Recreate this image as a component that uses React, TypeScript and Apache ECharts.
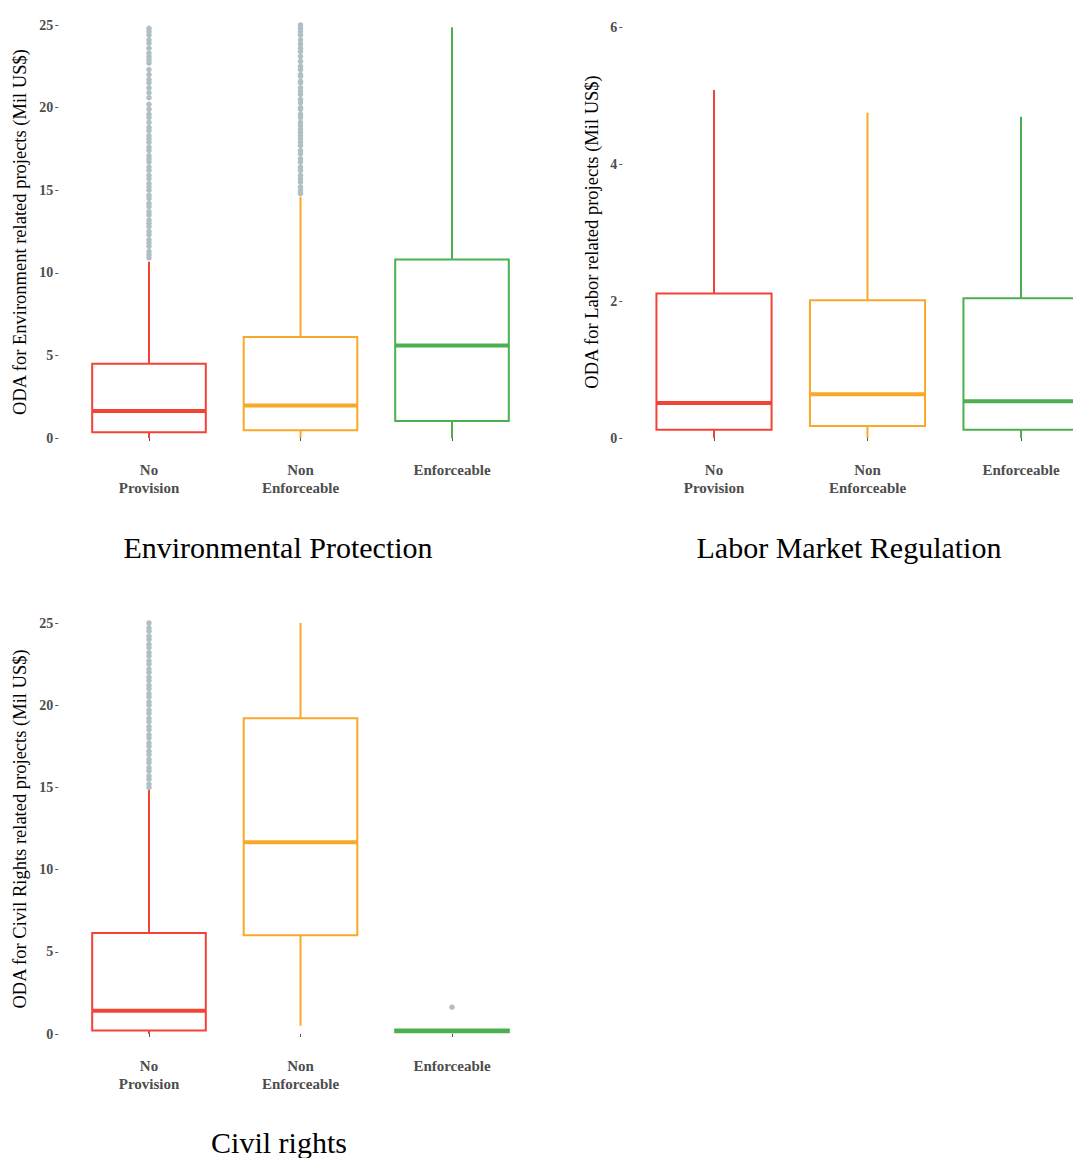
import React, { useEffect, useRef } from "react";
import * as echarts from "echarts";

// ---------- data ----------
const CATEGORIES = ["No\nProvision", "Non\nEnforceable", "Enforceable"];
const COLORS = ["#f44336", "#f9a82a", "#4caf50"];
const OUTLIER_COLOR = "#b0bec5";

// [lower whisker, Q1, median, Q3, upper whisker] per category
const ENV_BOXES = [
  [0, 0.35, 1.64, 4.5, 10.67],
  [0, 0.47, 1.96, 6.12, 14.6],
  [0, 1.03, 5.6, 10.8, 24.87],
];
const LABOR_BOXES = [
  [0, 0.12, 0.51, 2.11, 5.08],
  [0, 0.175, 0.64, 2.01, 4.75],
  [0, 0.12, 0.536, 2.04, 4.69],
];
const CIVIL_BOXES = [
  [0, 0.22, 1.41, 6.14, 14.85],
  [0.5, 6.0, 11.67, 19.2, 25.0],
  [0.05, 0.1, 0.18, 0.28, 0.3],
];

const ENV_OUT_NO_PROVISION = [
  10.9, 11.1, 11.3, 11.6, 11.8, 12.0, 12.3, 12.5, 12.8, 13.0, 13.2, 13.5, 13.7,
  14.0, 14.2, 14.5, 14.7, 15.0, 15.2, 15.4, 15.7, 15.9, 16.2, 16.4, 16.7, 16.9,
  17.1, 17.4, 17.6, 17.9, 18.1, 18.3, 18.6, 18.8, 19.1, 19.4, 19.6, 19.9, 20.2,
  20.6, 20.9, 21.2, 21.5, 21.7, 22.0, 22.3, 22.7, 22.9, 23.1, 23.3, 23.6, 23.9,
  24.1, 24.4, 24.6, 24.8,
];
const ENV_OUT_NON_ENFORCEABLE = [
  14.8, 15.0, 15.2, 15.5, 15.7, 15.9, 16.2, 16.4, 16.7, 16.9, 17.2, 17.4, 17.7,
  17.9, 18.1, 18.3, 18.5, 18.7, 18.9, 19.1, 19.4, 19.6, 19.9, 20.0, 20.3, 20.5,
  20.8, 21.0, 21.2, 21.5, 21.6, 21.9, 22.0, 22.3, 22.5, 22.8, 23.1, 23.4, 23.6,
  23.85, 24.1, 24.4, 24.6, 24.8, 25.0,
];
const CIVIL_OUT_NO_PROVISION = [
  15.0, 15.2, 15.5, 15.7, 16.0, 16.2, 16.5, 16.7, 17.0, 17.2, 17.5, 17.7, 18.0,
  18.2, 18.5, 18.7, 19.0, 19.2, 19.5, 19.7, 20.0, 20.2, 20.5, 20.7, 21.0, 21.2,
  21.5, 21.7, 22.0, 22.2, 22.5, 22.7, 23.0, 23.2, 23.5, 23.7, 24.0, 24.2, 24.5,
  24.7, 25.0,
];
const CIVIL_OUT_ENFORCEABLE = [1.63];

const ENV_TICKS = { min: 0, max: 25, interval: 5 };
const LABOR_TICKS = { min: 0, max: 6, interval: 2 };
const CIVIL_TICKS = { min: 0, max: 25, interval: 5 };

// ---------- helpers ----------
const SERIF = "'Liberation Serif', 'DejaVu Serif', serif";
const GREY = "#4d4d4d";

function boxRender(params: any, api: any) {
  const idx = api.value(0);
  const lo = api.coord([idx, api.value(1)]);
  const q1 = api.coord([idx, api.value(2)]);
  const med = api.coord([idx, api.value(3)]);
  const q3 = api.coord([idx, api.value(4)]);
  const hi = api.coord([idx, api.value(5)]);
  const band = api.size([1, 0])[0];
  const half = band * 0.375;
  const color = COLORS[idx];
  const x = q1[0];
  return {
    type: "group",
    children: [
      {
        type: "line",
        shape: { x1: x, y1: lo[1], x2: x, y2: q1[1] },
        style: { stroke: color, lineWidth: 2 },
      },
      {
        type: "line",
        shape: { x1: x, y1: q3[1], x2: x, y2: hi[1] },
        style: { stroke: color, lineWidth: 2 },
      },
      {
        type: "rect",
        shape: { x: x - half, y: q3[1], width: half * 2, height: q1[1] - q3[1] },
        style: { fill: "#ffffff", stroke: color, lineWidth: 2 },
      },
      {
        type: "line",
        shape: { x1: x - half, y1: med[1], x2: x + half, y2: med[1] },
        style: { stroke: color, lineWidth: 4 },
      },
    ],
  };
}

function boxData(boxes: number[][]) {
  return boxes.map((b, i) => [i, ...b]);
}

function outlierData(lists: number[][]) {
  const out: number[][] = [];
  lists.forEach((l, i) => l.forEach((v) => out.push([i, v])));
  return out;
}

export default function App() {
  const ref = useRef<HTMLDivElement>(null);
  useEffect(() => {
    if (!ref.current) return;
    const chart = echarts.init(ref.current, null, { renderer: "svg" });

    const grids = [
      { left: 73.25, top: 25, width: 454.5, height: 413, outerBoundsMode: "none", containLabel: false },
      { left: 637.25, top: 27, width: 460.5, height: 411, outerBoundsMode: "none", containLabel: false },
      { left: 73.25, top: 623, width: 454.5, height: 411, outerBoundsMode: "none", containLabel: false },
    ];
    const ticks = [ENV_TICKS, LABOR_TICKS, CIVIL_TICKS];

    const xAxes = grids.map((_, i) => ({
      type: "category",
      gridIndex: i,
      data: CATEGORIES,
      boundaryGap: true,
      offset: 19,
      axisLine: { show: false },
      axisTick: {
        show: true,
        alignWithLabel: true,
        length: 3,
        lineStyle: { color: "#555", width: 1 },
      },
      axisLabel: {
        margin: 4,
        fontFamily: SERIF,
        fontWeight: "bold",
        fontSize: 15,
        lineHeight: 18,
        color: GREY,
        interval: 0,
      },
      splitLine: { show: false },
    }));

    const yAxes = grids.map((_, i) => ({
      type: "value",
      gridIndex: i,
      min: ticks[i].min,
      max: ticks[i].max,
      interval: ticks[i].interval,
      offset: 15,
      axisLine: { show: false },
      axisTick: { show: true, length: 3, lineStyle: { color: "#555", width: 1 } },
      axisLabel: {
        margin: 5,
        fontFamily: SERIF,
        fontWeight: "bold",
        fontSize: 14,
        color: GREY,
      },
      splitLine: { show: false },
    }));

    const boxSets = [ENV_BOXES, LABOR_BOXES, CIVIL_BOXES];
    const outlierSets = [
      [ENV_OUT_NO_PROVISION, ENV_OUT_NON_ENFORCEABLE, []],
      [[], [], []],
      [CIVIL_OUT_NO_PROVISION, [], CIVIL_OUT_ENFORCEABLE],
    ];

    const series: any[] = [];
    boxSets.forEach((boxes, i) => {
      series.push({
        type: "custom",
        xAxisIndex: i,
        yAxisIndex: i,
        renderItem: boxRender,
        encode: { x: 0, y: [1, 2, 3, 4, 5] },
        data: boxData(boxes),
        clip: false,
        z: 2,
      });
      series.push({
        type: "scatter",
        xAxisIndex: i,
        yAxisIndex: i,
        symbol: "circle",
        symbolSize: 5.5,
        itemStyle: { color: OUTLIER_COLOR, opacity: 1 },
        data: outlierData(outlierSets[i]),
        z: 3,
      });
    });

    const titleStyle = { fontFamily: SERIF, fontSize: 30, fill: "#000" };
    const yTitleStyle = { fontFamily: SERIF, fontSize: 18.5, fill: "#000" };

    chart.setOption({
      animation: false,
      backgroundColor: "#ffffff",
      grid: grids,
      xAxis: xAxes,
      yAxis: yAxes,
      series,
      graphic: [
        {
          type: "text",
          x: 278,
          y: 547,
          style: { ...titleStyle, text: "Environmental Protection", align: "center", verticalAlign: "middle" },
        },
        {
          type: "text",
          x: 849,
          y: 547,
          style: { ...titleStyle, text: "Labor Market Regulation", align: "center", verticalAlign: "middle" },
        },
        {
          type: "text",
          x: 279,
          y: 1142,
          style: { ...titleStyle, text: "Civil rights", align: "center", verticalAlign: "middle" },
        },
        {
          type: "text",
          x: 20,
          y: 232,
          rotation: Math.PI / 2,
          style: { ...yTitleStyle, text: "ODA for Environment related projects (Mil US$)", align: "center", verticalAlign: "middle" },
        },
        {
          type: "text",
          x: 592,
          y: 232,
          rotation: Math.PI / 2,
          style: { ...yTitleStyle, text: "ODA for Labor related projects (Mil US$)", align: "center", verticalAlign: "middle" },
        },
        {
          type: "text",
          x: 20,
          y: 829,
          rotation: Math.PI / 2,
          style: { ...yTitleStyle, text: "ODA for Civil Rights related projects (Mil US$)", align: "center", verticalAlign: "middle" },
        },
      ],
    });
    return () => chart.dispose();
  }, []);

  return (
    <div
      ref={ref}
      style={{ position: "absolute", left: 0, top: 0, width: 1073, height: 1158 }}
    />
  );
}
